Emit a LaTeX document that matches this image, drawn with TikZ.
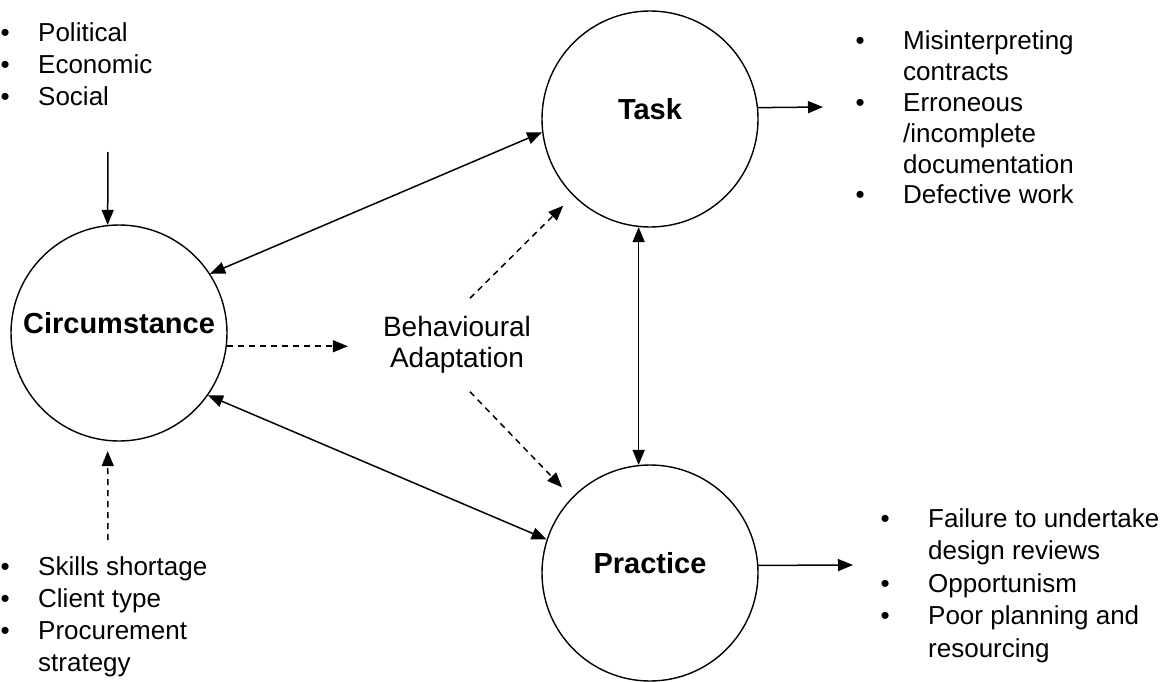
\documentclass[tikz,border=0pt]{standalone}
\usepackage{fontspec}
\setmainfont{Liberation Sans}
\usepackage{tikz}
\usetikzlibrary{positioning, calc, arrows.meta}

\newcommand{\bul}[1]{\makebox[0pt]{\textbullet}\hspace{#1}}

\begin{document}
\begin{tikzpicture}[x=1pt, y=-1pt,
  blob/.style={circle, draw, line width=1.4pt, minimum size=216pt, inner sep=0pt},
  lbl/.style={font=\bfseries\fontsize{29}{34}\selectfont, yshift=10pt},
  lst/.style={inner sep=0pt, anchor=base west, font=\fontsize{26}{32}\selectfont},
  arr/.style={-{Triangle[length=15pt, width=12pt]}, line width=1.5pt},
  dbl/.style={{Triangle[length=15pt, width=12pt]}-{Triangle[length=15pt, width=12pt]}, line width=1.5pt},
  dsh/.style={arr, dash pattern=on 6pt off 5pt},
]
  \useasboundingbox (0,0) rectangle (1172,682);

  % the three circles
  \node[blob, label={[lbl]center:Circumstance}] (circ) at (119,333) {};
  \node[blob, label={[lbl]center:Task}] (task) at (650,119) {};
  \node[blob, label={[lbl]center:Practice}] (prac) at (650,573) {};

  \node[font=\fontsize{28}{31}\selectfont, align=center, inner xsep=35pt, inner ysep=18pt]
    (behav) at (457,345) {Behavioural\\Adaptation};

  % lists
  \node[lst] (pes) at (5,42) {\begin{tabular}[t]{@{}l@{}}
    \bul{33pt}Political\\ \bul{33pt}Economic\\ \bul{33pt}Social\end{tabular}};
  \node[lst] (res) at (5,575) {\begin{tabular}[t]{@{}l@{}}
    \bul{33pt}Skills shortage\\ \bul{33pt}Client type\\ \bul{33pt}Procurement\\
    \hspace{33pt}strategy\end{tabular}};
  \node[lst, font=\fontsize{26}{30.8}\selectfont] (tasklist) at (860,50) {\begin{tabular}[t]{@{}l@{}}
    \bul{43pt}Misinterpreting\\ \hspace{43pt}contracts\\ \bul{43pt}Erroneous\\
    \hspace{43pt}/incomplete\\ \hspace{43pt}documentation\\ \bul{43pt}Defective work\end{tabular}};
  \node[lst, font=\fontsize{26}{32.5}\selectfont] (praclist) at (885,527) {\begin{tabular}[t]{@{}l@{}}
    \bul{43pt}Failure to undertake\\ \hspace{43pt}design reviews\\ \bul{43pt}Opportunism\\
    \bul{43pt}Poor planning and\\ \hspace{43pt}resourcing\end{tabular}};

  \coordinate (pestail) at (108,152);
  \coordinate (restail) at (108,540);
  \coordinate (taskout) at (823,107);
  \coordinate (pracout) at (853,565);

  % connectors
  \draw[arr] (pestail) -- (circ.96);
  \draw[dsh, shorten >=10pt] (restail) -- (circ.264);
  \draw[dbl] (circ.33) -- (task.187);
  \draw[dbl] (circ.325) -- (prac.162);
  \draw[dbl] (task.264) -- (prac.96);
  \draw[dsh] (circ.-7) -- (circ.-7 -| behav.west);
  \draw[dsh, shorten >=14pt] ([xshift=13pt]behav.north) -- (task.225);
  \draw[dsh, shorten >=14pt] ([xshift=13pt]behav.south) -- (prac.136);
  \draw[arr] (task.6) -- (taskout);
  \draw[arr] (prac.4) -- (pracout);
\end{tikzpicture}
\end{document}
